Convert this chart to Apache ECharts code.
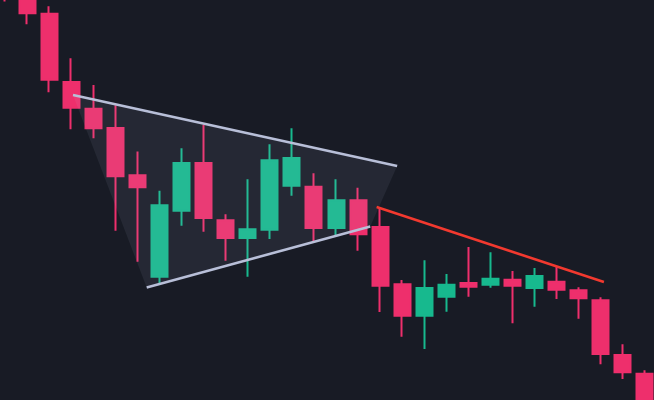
<!DOCTYPE html>
<html>
<head>
<meta charset="utf-8">
<script src="https://cdn.jsdelivr.net/npm/echarts@6/dist/echarts.min.js"></script>
<style>
html,body{margin:0;padding:0;background:#181b25;overflow:hidden;width:654px;height:400px;}
#wrap{position:relative;width:654px;height:400px;overflow:hidden;}
#chart{position:absolute;left:-5.6px;top:0;width:662px;height:400px;}
</style>
</head>
<body>
<div id="wrap"><div id="chart"></div></div>
<script>
// Candle data (arbitrary price units)
var categories = ['C1','C2','C3','C4','C5','C6','C7','C8','C9','C10','C11','C12','C13','C14','C15','C16','C17','C18','C19','C20','C21','C22','C23','C24','C25','C26','C27','C28','C29','C30'];
var opens  = [440, 410, 386.3, 318, 291.3, 272, 224.7, 123.3, 189.3, 237, 179.7, 162, 170.3, 214.3, 213.3, 172, 199.7, 173, 115.7, 84.3, 103.3, 117, 115.3, 120.3, 112, 118.3, 109.7, 99.7, 45, 26.3];
var closes = [412, 386.7, 320.3, 292.3, 271.7, 223.7, 212.7, 194.7, 237, 182, 162, 170.7, 239.7, 242, 172, 199.7, 165.7, 114.3, 84.3, 112, 115.3, 113.3, 121.3, 114.3, 124, 110.3, 101.7, 46, 27.7, -20];
var lows   = [398.5, 375.7, 307.7, 270.7, 261.7, 169.3, 138.3, 116.7, 174.3, 168.3, 139.3, 123.3, 161, 204.3, 159, 165, 149.3, 88, 63.3, 51, 88.3, 103.3, 112.3, 76.7, 93.3, 101, 81.3, 35.7, 21, -30];
var highs  = [450, 418, 393.7, 341.7, 315, 294.7, 248.5, 209.3, 251.7, 275, 185.7, 220.7, 255.7, 271.7, 226.7, 220.7, 212.3, 192.7, 120, 139.7, 126, 153, 147.7, 129, 132, 133.7, 112.7, 102.7, 55.7, 29.7];

// Pattern overlays (x in candle-index units, y in price units)
var triangleX = [3.08, 17.77, 16.55, 6.42];
var triangleY = [305, 234, 173.5, 112.5];
var upperLine = [[3.08, 305], [17.77, 234]];
var lowerLine = [[6.42, 112.5], [16.55, 173.5]];
var breakLine = [[16.84, 193], [27.14, 118]];

var candleData = opens.map(function (o, i) { return [o, closes[i], lows[i], highs[i]]; });

var chart = echarts.init(document.getElementById('chart'), null, {renderer: 'canvas'});
chart.setOption({
  backgroundColor: '#181b25',
  animation: false,
  grid: {left: 0, right: 0, top: 0, bottom: 0},
  xAxis: [
    {type: 'category', data: categories, boundaryGap: true, show: false},
    {type: 'value', min: -0.5, max: categories.length - 0.5, show: false}
  ],
  yAxis: {type: 'value', min: 0, max: 400, show: false},
  series: [
    {
      type: 'candlestick',
      data: candleData,
      barWidth: 16.5,
      xAxisIndex: 0,
      itemStyle: {
        color: '#17b98e',
        color0: '#ee2f6c',
        borderColor: '#17b98e',
        borderColor0: '#ee2f6c',
        borderWidth: 2
      },
      z: 2
    },
    {
      type: 'custom',
      xAxisIndex: 1,
      yAxisIndex: 0,
      data: [0],
      silent: true,
      z: 3,
      renderItem: function (params, api) {
        var pts = triangleX.map(function (x, i) { return api.coord([x, triangleY[i]]); });
        return {
          type: 'polygon',
          shape: {points: pts},
          style: {fill: 'rgba(190,200,235,0.08)'}
        };
      }
    },
    {
      type: 'line', xAxisIndex: 1, data: upperLine, symbol: 'none', z: 4,
      lineStyle: {color: '#b8bfd8', width: 2.5}
    },
    {
      type: 'line', xAxisIndex: 1, data: lowerLine, symbol: 'none', z: 4,
      lineStyle: {color: '#b8bfd8', width: 2.5}
    },
    {
      type: 'line', xAxisIndex: 1, data: breakLine, symbol: 'none', z: 4,
      lineStyle: {color: '#f2392f', width: 2.5}
    }
  ]
});
</script>
</body>
</html>
